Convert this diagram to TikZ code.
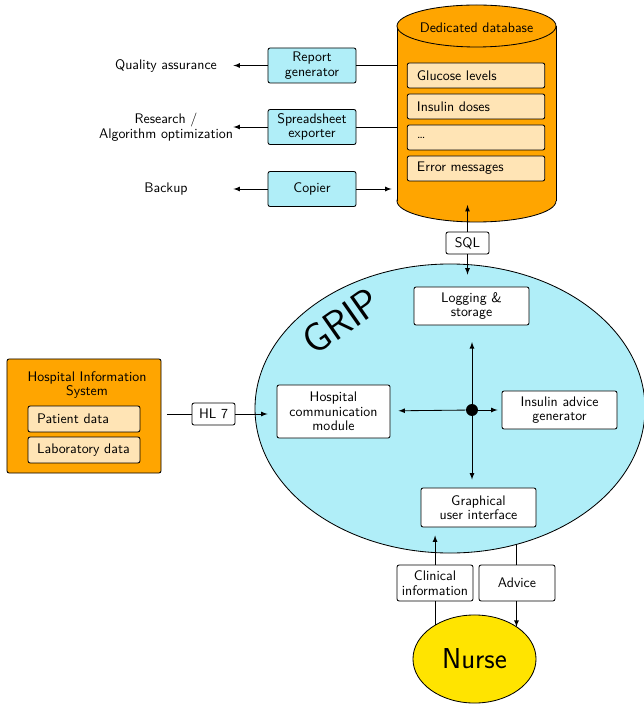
\documentclass[tikz,border=0pt]{standalone}
\usepackage{tikz}
\usetikzlibrary{positioning,shapes.geometric,arrows,backgrounds}
\usepackage{xcolor}
\definecolor{dborange}{RGB}{255,165,0}
\definecolor{itemfill}{RGB}{255,228,181}
\definecolor{gripblue}{RGB}{176,238,248}
\definecolor{nurseyellow}{RGB}{255,228,0}

\begin{document}
\begin{tikzpicture}[x=0.72pt, y=-0.72pt, >=latex, semithick,
  every node/.style = {font=\sffamily\fontsize{10}{10.5}\selectfont},
  box/.style = {shape=rectangle, rounded corners=1.5pt, draw, align=center,
	fill=white, inner sep=2pt},
  dbitem/.style = {box, fill=itemfill, align=left, text width=85pt,
	minimum height=18pt, inner xsep=7pt},
  hisitem/.style = {box, fill=itemfill, align=left, text width=67.6pt,
	minimum height=18.7pt, inner xsep=6.5pt},
  tool/.style = {box, fill=gripblue, minimum width=63.4pt, minimum height=25.2pt},
  module/.style = {box, minimum width=82.8pt, minimum height=27.4pt},
  tag/.style = {box, minimum width=31pt, minimum height=15.8pt},
  message/.style = {box, minimum width=54.7pt, minimum height=25.9pt},
  usage/.style = {align=center, minimum width=96.5pt, inner sep=0pt}]

\useasboundingbox (0,0) rectangle (643,705);

% dedicated database
\filldraw[fill=dborange] (476.5,201) ellipse [x radius=79.5, y radius=21];
\fill[dborange] (397,26) rectangle (556,201);
\draw (397,26) -- (397,201) (556,26) -- (556,201);
\filldraw[fill=dborange] (476.5,26) ellipse [x radius=79.5, y radius=21];
\node (dbtitle) at (476.5,28) {Dedicated database};
\node[minimum width=114.5pt, minimum height=156pt, inner sep=0pt] (db) at (476.5,113.5) {};

\node[dbitem] (glucose) at (476,75.5) {Glucose levels};
\node[dbitem] (insulin) at (476,106.5) {Insulin doses};
\node[dbitem] (dots) at (476,137.5) {\dots};
\node[dbitem] (errors) at (476,168.5) {Error messages};

% tools on the database
\node[tool] (report) at (312,65.5) {Report\\generator};
\node[tool] (export) at (312,127) {Spreadsheet\\exporter};
\node[tool] (copier) at (312,189) {Copier};

\node[usage] (quality) at (166,65.5) {Quality assurance};
\node[usage] (research) at (166,127) {Research /\\Algorithm optimization};
\node[usage] (backup) at (166,189) {Backup};

\draw (db.west |- report) -- (report);
\draw[->] (report) -- (quality);
\draw (db.west |- export) -- (export);
\draw[->] (export) -- (research);
\draw[->, shorten >=3.6pt] (copier) -- (db.west |- copier);
\draw[->] (copier) -- (backup);

% hospital information system
\node[box, fill=dborange, minimum width=110.9pt, minimum height=82.1pt] (his) at (84,416) {};
\node[align=center] (histitle) at (87,385) {Hospital Information\\System};
\node[hisitem] (patient) at (84,419) {Patient data};
\node[hisitem] (lab) at (84,450) {Laboratory data};

% GRIP
\node[ellipse, draw, fill=gripblue, minimum width=280.8pt, minimum height=208.1pt,
	inner sep=0pt] (grip) at (450,408.5) {};
\node[font=\sffamily\fontsize{29}{30}\selectfont, rotate=35] (griplabel) at (341,321) {GRIP};

\node[module] (logging) at (471.5,306) {Logging \&\\storage};
\node[module, minimum width=81.4pt, minimum height=38.2pt] (hcm) at (333.5,411.5)
	{Hospital\\communication\\module};
\node[module] (advisor) at (559.5,410) {Insulin advice\\generator};
\node[module, minimum height=28.1pt] (gui) at (478.5,507.5) {Graphical\\user interface};

\node[circle, fill, inner sep=0pt, minimum size=8.6pt] (hub) at (472,410) {};
\draw[->, shorten >=12pt] (hub) -- (hub |- logging.south);
\draw[->, shorten >=5.8pt] (hub) -- (hub |- gui.north);
\draw[->, shorten >=5.8pt] (hub) -- (hcm);
\draw[->, shorten >=2.9pt] (hub) -- (advisor);

% HL 7 link
\node[tag] (hl7) at (213.5,414) {HL 7};
\draw[shorten <=4pt] (his.east |- hl7) -- (hl7);
\draw[->, shorten >=6.5pt] (hl7) -- (hl7 -| hcm.west);

% SQL link
\coordinate (dbin) at (467.5,205);
\node[tag] (sql) at (467.5,243) {SQL};
\draw[->] (sql) -- (dbin);
\draw[->, shorten >=8.6pt] (sql) -- (sql |- logging.north);

% nurse
\node[ellipse, draw, fill=nurseyellow, minimum width=88.6pt, minimum height=63.4pt,
	inner sep=0pt, font=\sffamily\huge] (nurse) at (474.5,659) {Nurse};
\draw[->, shorten >=5.8pt] (nurse.139) -- (nurse.139 |- gui.south);
\draw[->] (grip.-64) -- (grip.-64 |- nurse.37);
\node[message] (clinical) at (435,583) {Clinical\\information};
\node[message] (advice) at (517,583) {Advice};
\end{tikzpicture}
\end{document}
